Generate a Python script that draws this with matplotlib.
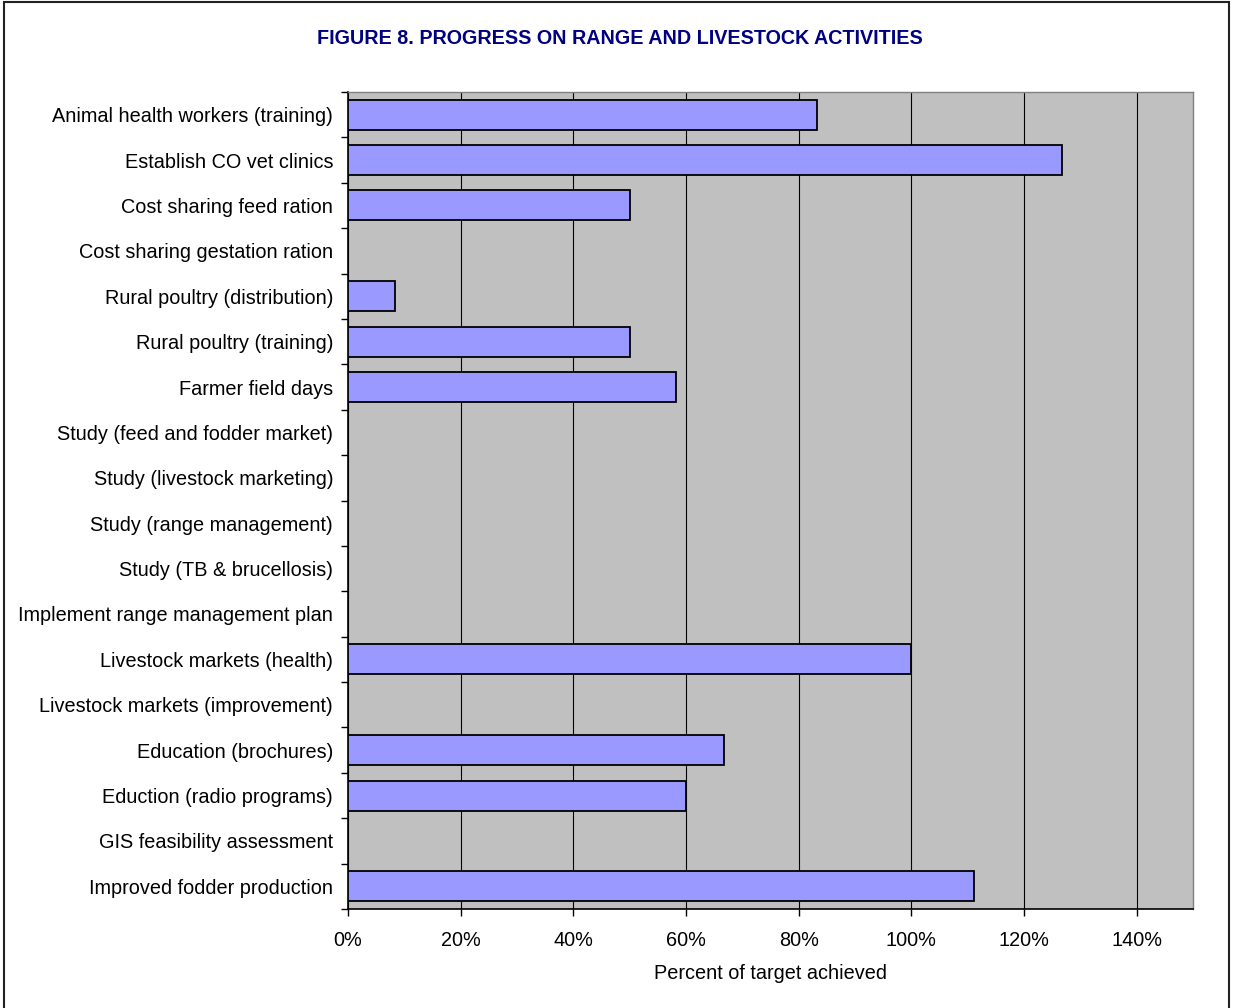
import matplotlib
matplotlib.use("Agg")
import matplotlib.pyplot as plt
from matplotlib.patches import Rectangle
from matplotlib.ticker import FixedLocator, PercentFormatter

categories = [
    "Animal health workers (training)",
    "Establish CO vet clinics",
    "Cost sharing feed ration",
    "Cost sharing gestation ration",
    "Rural poultry (distribution)",
    "Rural poultry (training)",
    "Farmer field days",
    "Study (feed and fodder market)",
    "Study (livestock marketing)",
    "Study (range management)",
    "Study (TB & brucellosis)",
    "Implement range management plan",
    "Livestock markets (health)",
    "Livestock markets (improvement)",
    "Education (brochures)",
    "Eduction (radio programs)",
    "GIS feasibility assessment",
    "Improved fodder production",
]
values = [0.833, 1.267, 0.50, 0.0, 0.083, 0.50, 0.583, 0.0, 0.0, 0.0, 0.0, 0.0,
          1.00, 0.0, 0.667, 0.60, 0.0, 1.111]
xticks = [0, 0.2, 0.4, 0.6, 0.8, 1.0, 1.2, 1.4]

plt.rcParams['font.family'] = ['Liberation Sans', 'DejaVu Sans']

W, H = 1233, 1008
fig = plt.figure(figsize=(W / 100, H / 100), dpi=100)
fig.patch.set_facecolor('white')

# outer frame
fig.add_artist(Rectangle((4 / W, -0.01), (1229 - 4) / W, (H - 2) / H + 0.01,
                         transform=fig.transFigure, fill=False,
                         edgecolor='#222222', linewidth=1.5))

ax = fig.add_axes([348 / W, 1 - 909 / H, (1193 - 348) / W, (909 - 92) / H])
ax.set_facecolor('#c0c0c0')

ypos = list(range(len(categories)))
ax.barh(ypos, values, height=0.66, color='#9999ff', edgecolor='black',
        linewidth=1.3, zorder=3)

ax.set_xlim(0, 1.5)
ax.set_ylim(len(categories) - 0.5, -0.5)

ax.xaxis.set_major_locator(FixedLocator(xticks))
ax.xaxis.set_major_formatter(PercentFormatter(1.0, decimals=0))
ax.grid(axis='x', color='black', linewidth=0.8, zorder=1)

ax.set_yticks(ypos)
ax.set_yticklabels(categories, fontsize=14.3)
ax.tick_params(axis='y', length=0, pad=10.7)
ax.set_yticks([i + 0.5 for i in range(-1, len(categories))], minor=True)
ax.tick_params(axis='y', which='minor', length=5, width=1, direction='out')
ax.tick_params(axis='x', length=5, width=1, direction='out', labelsize=14.3, pad=11)

for s in ['left', 'bottom']:
    ax.spines[s].set_color('black')
    ax.spines[s].set_linewidth(1.2)
for s in ['top', 'right']:
    ax.spines[s].set_color('#808080')
    ax.spines[s].set_linewidth(1.0)

ax.set_xlabel('Percent of target achieved', fontsize=14.3, labelpad=10)

fig.text((317 + 922) / 2 / W, 1 - 38 / H,
         'FIGURE 8. PROGRESS ON RANGE AND LIVESTOCK ACTIVITIES',
         ha='center', va='center', fontsize=14.2, fontweight='bold',
         color='#000080')

fig.savefig('out.png', dpi=100)
